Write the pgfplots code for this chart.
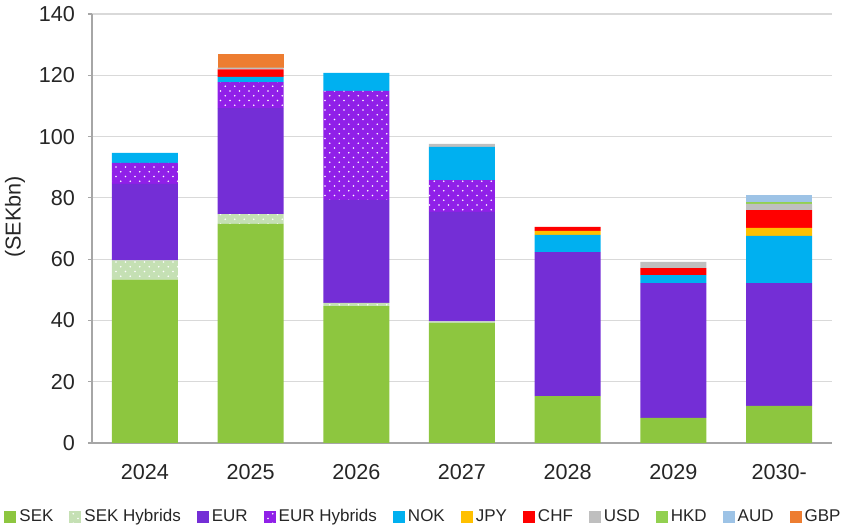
\documentclass[border=0pt]{standalone}
\usepackage{fontspec}
\setmainfont{Liberation Sans}
\usepackage{pgfplots}
\pgfplotsset{compat=1.18}
\usepackage{pgfplotstable}
\usetikzlibrary{patterns}

\definecolor{cSEK}{HTML}{8DC63F}
\definecolor{cSEKH}{HTML}{C5E0B4}
\definecolor{cEUR}{HTML}{742ED6}
\definecolor{cEURH}{HTML}{9020E8}
\definecolor{cNOK}{HTML}{00B0F0}
\definecolor{cJPY}{HTML}{FFC000}
\definecolor{cCHF}{HTML}{FF0000}
\definecolor{cUSD}{HTML}{BFBFBF}
\definecolor{cHKD}{HTML}{92D050}
\definecolor{cAUD}{HTML}{9DC3E6}
\definecolor{cGBP}{HTML}{ED7D31}

\pgfdeclarepatternformonly{sdots}{\pgfqpoint{-0.5pt}{-0.5pt}}{\pgfqpoint{5.25pt}{5.25pt}}{\pgfqpoint{4.75pt}{4.75pt}}{%
  \pgfpathcircle{\pgfqpoint{1pt}{1pt}}{0.4pt}%
  \pgfpathcircle{\pgfqpoint{3.375pt}{3.375pt}}{0.4pt}%
  \pgfusepath{fill}}

\pgfplotstableread{
x SEK SEKH EUR EURH NOK JPY CHF USD HKD AUD GBP
0 53.3 6.3 25.0 6.8 3.3 0 0 0 0 0 0
1 71.5 3.2 34.6 8.5 1.7 0 2.4 0.6 0 0 4.3
2 44.7 1.0 33.6 35.6 5.9 0 0 0 0 0 0
3 39.2 0.5 35.7 10.4 10.8 0 0 1.0 0 0 0
4 15.3 0 47.0 0 5.6 1.3 1.3 0 0 0 0
5 8.2 0 44.0 0 2.6 0 2.3 2.0 0 0 0
6 12.1 0 40.1 0 15.4 2.6 5.8 2.0 0.6 2.4 0
}\data

\begin{document}
\begin{tikzpicture}
\useasboundingbox (0,0) rectangle (424pt,265pt);
\begin{axis}[
  at={(46pt,43.5pt)}, anchor=south west,
  scale only axis, width=370pt, height=214.5pt,
  ybar stacked, bar width=33pt,
  xmin=-0.5, xmax=6.5, ymin=0, ymax=140,
  xtick={0,1,2,3,4,5,6},
  xticklabels={2024,2025,2026,2027,2028,2029,2030-},
  ytick={0,20,40,60,80,100,120,140},
  ymajorgrids, grid style={draw=black!15, line width=0.6pt},
  axis x line*=bottom, axis y line*=left,
  axis line style={draw=black!35, line width=0.6pt},
  xtick style={draw=none},
  ytick style={draw=black!35, line width=0.6pt},
  tick align=outside, major tick length=2pt,
  tick label style={font=\fontsize{10.8}{12}\selectfont, text=black!85},
  xticklabel style={yshift=-5pt},
  yticklabel style={xshift=-3pt},
  /pgf/number format/assume math mode=true,
  ylabel={(SEKbn)},
  every axis y label/.style={at={(axis description cs:0,0.527)}, xshift=-38.5pt, rotate=90, anchor=center, font=\fontsize{10.8}{12}\selectfont, text=black!85},
  legend style={at={(axis description cs:0.5,0)}, anchor=center, xshift=-19pt, yshift=-37pt,
    draw=none, fill=none, font=\fontsize{8.5}{10}\selectfont, text=black!85, inner sep=0pt,
    /tikz/every even column/.append style={column sep=6.5pt},
    nodes={inner xsep=1.5pt}},
  legend columns=11,
  legend image code/.code={\fill[#1] (0pt,-3pt) rectangle (6pt,3pt);},
]
\addplot[fill=cSEK, draw=none] table[x=x,y=SEK]{\data};
\addlegendentry{SEK}
\addplot[fill=cSEKH, draw=none, postaction={pattern=sdots, pattern color=white}] table[x=x,y=SEKH]{\data};
\addlegendentry{SEK Hybrids}
\addplot[fill=cEUR, draw=none] table[x=x,y=EUR]{\data};
\addlegendentry{EUR}
\addplot[fill=cEURH, draw=none, postaction={pattern=sdots, pattern color=white}] table[x=x,y=EURH]{\data};
\addlegendentry{EUR Hybrids}
\addplot[fill=cNOK, draw=none] table[x=x,y=NOK]{\data};
\addlegendentry{NOK}
\addplot[fill=cJPY, draw=none] table[x=x,y=JPY]{\data};
\addlegendentry{JPY}
\addplot[fill=cCHF, draw=none] table[x=x,y=CHF]{\data};
\addlegendentry{CHF}
\addplot[fill=cUSD, draw=none] table[x=x,y=USD]{\data};
\addlegendentry{USD}
\addplot[fill=cHKD, draw=none] table[x=x,y=HKD]{\data};
\addlegendentry{HKD}
\addplot[fill=cAUD, draw=none] table[x=x,y=AUD]{\data};
\addlegendentry{AUD}
\addplot[fill=cGBP, draw=none] table[x=x,y=GBP]{\data};
\addlegendentry{GBP}
\end{axis}
\end{tikzpicture}
\end{document}
